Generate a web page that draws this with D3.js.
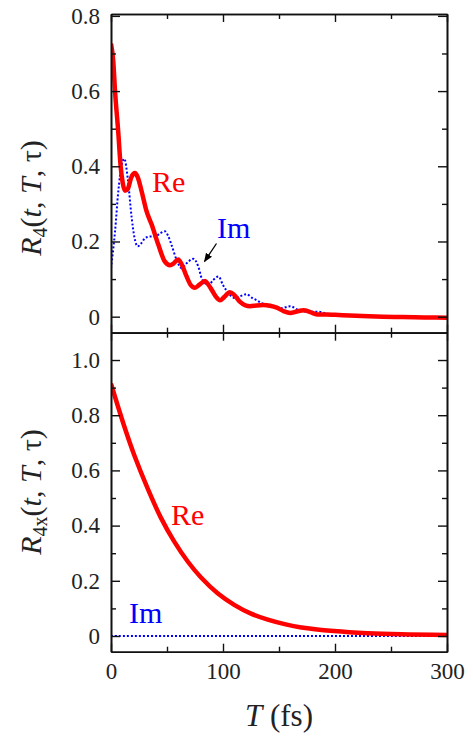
<!DOCTYPE html>
<html><head><meta charset="utf-8">
<script src="https://cdn.jsdelivr.net/npm/d3@7"></script>
</head><body style="margin:0;background:#fff">
<script>
// ---- data ----
const topReT = [0,2,3.6,6.5,8.6,10.5,12.5,15,18,21.4,24,27.4,31.8,36.3,42.3,48,52.7,56,60,63,67.5,71,75,79,84,87,90,94,97.3,101,106,110,115,120,124,130,136,142,148,154,160,166,172,178,184,192,200,213,230,243,260,280,300];
const topReV = [0.726,0.68,0.60,0.49,0.40,0.355,0.335,0.34,0.37,0.382,0.37,0.333,0.28,0.245,0.191,0.147,0.137,0.142,0.152,0.14,0.107,0.085,0.077,0.085,0.095,0.085,0.071,0.052,0.044,0.052,0.065,0.058,0.04,0.03,0.028,0.03,0.031,0.029,0.024,0.015,0.01,0.014,0.017,0.012,0.006,0.006,0.005,0.003,0.001,0.0,-0.001,-0.002,-0.003];
const topImT = [0,3.6,6.5,9.5,11.9,14.9,18.5,21,23.8,27,30.4,35,39.3,44,48.2,51,54,58.6,63,67.5,73.5,78,81,87,91.4,96,100,105,110,115,121,126,130,134.5,139,145,151,156,160,167,176,185,192.6,200,213,230,243,270,300];
const topImV = [0.129,0.227,0.333,0.404,0.42,0.369,0.262,0.21,0.187,0.195,0.209,0.213,0.213,0.222,0.227,0.215,0.191,0.151,0.129,0.142,0.154,0.133,0.102,0.084,0.098,0.107,0.084,0.062,0.05,0.054,0.06,0.05,0.044,0.036,0.033,0.027,0.022,0.025,0.028,0.018,0.013,0.013,0.008,0.006,0.003,0.001,-0.001,-0.002,-0.003];
const botReT = [0,11.9,20.8,32.7,44.6,56.5,68.5,80.4,95.2,110,125,140,155,170,199,229,259,300];
const botReV = [0.914,0.759,0.655,0.535,0.428,0.342,0.27,0.212,0.155,0.113,0.081,0.059,0.043,0.031,0.018,0.01,0.006,0.004];
const botImT = [0,50,100,150,200,250,300];
const botImV = [0,0,0,0,0,0,0];
const xMajor = [0,100,200,300];
const xMinor = [50,150,250];
const topYMajor = [0,0.2,0.4,0.6,0.8];
const topYMinor = [0.1,0.3,0.5,0.7];
const botYMajor = [0,0.2,0.4,0.6,0.8,1.0];
const botYMinor = [0.1,0.3,0.5,0.7,0.9];
const labels = {re:"Re", im:"Im"};

// ---- layout ----
const W=473,H=736;
const L=111,R=447,T1=14,B1=332.7,B2=651.7;
const FF='"Liberation Serif", serif';
const setF=s=>s.attr("font-family","Liberation Serif").style("font-family",FF,"important");
const svg=d3.select("body").append("svg").attr("width",W).attr("height",H).style("display","block");
setF(svg);
svg.append("rect").attr("width",W).attr("height",H).attr("fill","#fff");
const x=d3.scaleLinear().domain([0,300]).range([L,R]);
const yTop=d3.scaleLinear().domain([-0.0426,0.805]).range([B1,T1]);
const yBot=d3.scaleLinear().domain([-0.0569,1.099]).range([B2,B1]);
const fmt=d=>d===0?"0":d3.format(".1f")(d);

function zip(a,b){return a.map((t,i)=>[t,b[i]]);}
function drawPanel(y,yMaj,yMin,top,bottom,showX,reT,reV,imT,imV,curve){
  const g=svg.append("g");
  const clipId="c"+Math.round(top);
  svg.append("clipPath").attr("id",clipId).append("rect").attr("x",L).attr("y",top).attr("width",R-L).attr("height",bottom-top);
  const line=d3.line().x(d=>x(d[0])).y(d=>y(d[1])).curve(curve);
  const cg=g.append("g").attr("clip-path","url(#"+clipId+")");
  cg.append("path").datum(zip(imT,imV)).attr("d",line).attr("fill","none").attr("stroke","#0000ff").attr("stroke-width",2).attr("stroke-dasharray","2,2");
  cg.append("path").datum(zip(reT,reV)).attr("d",line).attr("fill","none").attr("stroke","#ff0000").attr("stroke-width",4.5).attr("stroke-linejoin","round");
  const ax=[];
  ax.push(g.append("g").attr("transform",`translate(${L},0)`).call(d3.axisLeft(y).tickValues(yMaj).tickSize(-9).tickSizeOuter(0).tickPadding(11).tickFormat(fmt)));
  ax.push(g.append("g").attr("transform",`translate(${L},0)`).call(d3.axisLeft(y).tickValues(yMin).tickSize(-5).tickSizeOuter(0).tickFormat("")));
  ax.push(g.append("g").attr("transform",`translate(${R},0)`).call(d3.axisRight(y).tickValues(yMaj).tickSize(-9).tickSizeOuter(0).tickFormat("")));
  ax.push(g.append("g").attr("transform",`translate(${R},0)`).call(d3.axisRight(y).tickValues(yMin).tickSize(-5).tickSizeOuter(0).tickFormat("")));
  ax.push(g.append("g").attr("transform",`translate(0,${top})`).call(d3.axisTop(x).tickValues(xMajor).tickSize(-8).tickSizeOuter(0).tickFormat("")));
  ax.push(g.append("g").attr("transform",`translate(0,${top})`).call(d3.axisTop(x).tickValues(xMinor).tickSize(-5).tickSizeOuter(0).tickFormat("")));
  ax.push(g.append("g").attr("transform",`translate(0,${bottom})`).call(d3.axisBottom(x).tickValues(xMajor).tickSize(-8).tickSizeOuter(0).tickPadding(11).tickFormat(showX?d3.format("d"):"")));
  ax.push(g.append("g").attr("transform",`translate(0,${bottom})`).call(d3.axisBottom(x).tickValues(xMinor).tickSize(-5).tickSizeOuter(0).tickFormat("")));
  ax.forEach(a=>{
    setF(a);
    a.selectAll("path.domain").attr("stroke","#111").attr("stroke-width",1.6);
    a.selectAll(".tick line").attr("stroke","#111").attr("stroke-width",1.4);
    setF(a.selectAll("text")).attr("font-size",23).attr("fill","#222");
  });
  return g;
}
drawPanel(yTop,topYMajor,topYMinor,T1,B1,false,topReT,topReV,topImT,topImV,d3.curveMonotoneX);
drawPanel(yBot,botYMajor,botYMinor,B1,B2,true,botReT,botReV,botImT,botImV,d3.curveCatmullRom.alpha(0.5));

function yTitle(cy,sub){
  const t=setF(svg.append("text").attr("transform",`translate(41,${cy}) rotate(-90)`).attr("text-anchor","middle"))
    .attr("font-size",30).attr("fill","#222");
  setF(t.append("tspan")).attr("font-style","italic").text("R");
  setF(t.append("tspan")).attr("font-size",20).attr("dy",6).text(sub);
  setF(t.append("tspan")).attr("dy",-6).text("(");
  setF(t.append("tspan")).attr("font-style","italic").text("t");
  setF(t.append("tspan")).text(", ");
  setF(t.append("tspan")).attr("font-style","italic").text("T");
  setF(t.append("tspan")).text(", \u03C4)");
}
yTitle(198,"4");
yTitle(492,"4x");

const xt=setF(svg.append("text").attr("x",279).attr("y",726).attr("text-anchor","middle"))
  .attr("font-size",31).attr("fill","#222");
setF(xt.append("tspan")).attr("font-style","italic").text("T");
setF(xt.append("tspan")).text(" (fs)");

const lab=(tx,ty,s,c)=>setF(svg.append("text").attr("x",tx).attr("y",ty)).attr("font-size",30).attr("fill",c).text(s);
lab(152,192,labels.re,"#ff0000");
lab(217,238,labels.im,"#0000ff");
lab(171,525,labels.re,"#ff0000");
lab(129,623,labels.im,"#0000ff");

svg.append("defs").append("marker").attr("id","ah").attr("viewBox","0 0 10 10").attr("refX",9).attr("refY",5)
  .attr("markerWidth",9).attr("markerHeight",9).attr("markerUnits","userSpaceOnUse").attr("orient","auto")
  .append("path").attr("d","M0,1 L10,5 L0,9 Z").attr("fill","#000");
svg.append("line").attr("x1",216.5).attr("y1",243.5).attr("x2",204.5).attr("y2",261.5)
  .attr("stroke","#000").attr("stroke-width",1.3).attr("marker-end","url(#ah)");
</script>
</body></html>
